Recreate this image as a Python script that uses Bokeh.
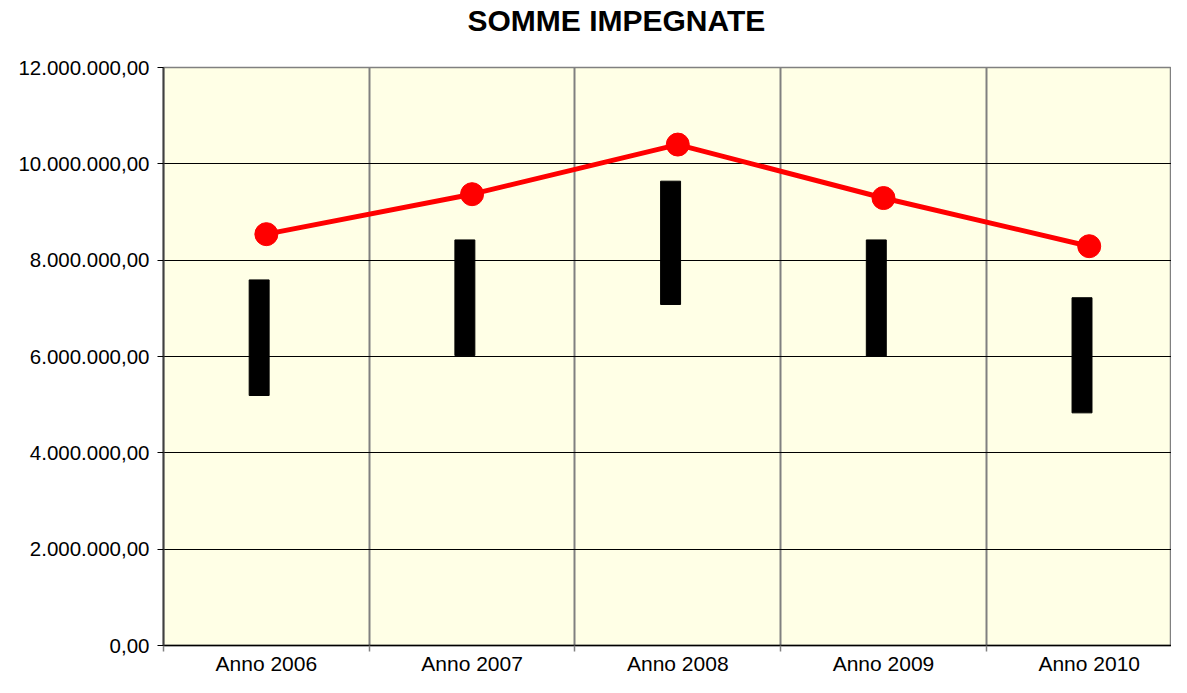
from bokeh.plotting import figure
from bokeh.models import Range1d, FixedTicker, ColumnDataSource, Title
from bokeh.transform import dodge
from bokeh.embed import file_html
from bokeh.resources import INLINE

# ---- data ----
categories = ["Anno 2006", "Anno 2007", "Anno 2008", "Anno 2009", "Anno 2010"]
line_values = [8540000, 9370000, 10400000, 9290000, 8290000]
bar_high = [7590000, 8420000, 9640000, 8420000, 7220000]
bar_low = [5190000, 6020000, 7080000, 6000000, 4830000]
y_ticks = [0, 2000000, 4000000, 6000000, 8000000, 10000000, 12000000]
y_tick_labels = ["0,00", "2.000.000,00", "4.000.000,00", "6.000.000,00",
                 "8.000.000,00", "10.000.000,00", "12.000.000,00"]

FONT = "Liberation Sans"

x_centers = [i + 0.5 for i in range(len(categories))]
boundaries = list(range(len(categories) + 1))

src = ColumnDataSource(dict(x=x_centers, cat=categories, val=line_values,
                            high=bar_high, low=bar_low))

p = figure(width=1171, height=677, output_backend="svg", toolbar_location=None,
           x_range=Range1d(0, 4.90), y_range=Range1d(0, 12000000),
           min_border_left=163, min_border_right=0, min_border_top=67,
           min_border_bottom=28)

p.background_fill_color = "#FFFFE6"
p.border_fill_color = "white"
p.outline_line_color = "#808080"
p.outline_line_width = 1.5

# spacer between title and plot area
p.add_layout(Title(text=" ", text_font_size="2px", standoff=27), "above")

# title
p.title.text = "SOMME IMPEGNATE"
p.title.text_font = FONT
p.title.text_font_size = "30px"
p.title.text_font_style = "bold"
p.title.text_color = "black"
p.title.align = "left"
p.title.offset = 304
p.title.standoff = 0

# x axis
xa = p.xaxis[0]
xa.ticker = FixedTicker(ticks=x_centers, minor_ticks=boundaries)
xa.major_label_overrides = {x: c for x, c in zip(x_centers, categories)}
xa.major_tick_out = 0
xa.major_tick_in = 0
xa.minor_tick_out = 6
xa.minor_tick_in = 0
xa.minor_tick_line_color = "#808080"
xa.minor_tick_line_width = 1.5
xa.axis_line_color = "black"
xa.axis_line_width = 1.5
xa.major_label_text_font = FONT
xa.major_label_text_font_size = "21px"
xa.major_label_text_color = "black"
xa.major_label_standoff = 0

# y axis
ya = p.yaxis[0]
ya.ticker = FixedTicker(ticks=y_ticks, minor_ticks=[])
ya.major_label_overrides = {t: l for t, l in zip(y_ticks, y_tick_labels)}
ya.major_tick_out = 6
ya.major_tick_in = 0
ya.major_tick_line_color = "black"
ya.axis_line_color = "#404040"
ya.axis_line_width = 2
ya.major_label_text_font = FONT
ya.major_label_text_font_size = "20.5px"
ya.major_label_text_color = "black"
ya.major_label_standoff = 8

# grids
p.xgrid.ticker = FixedTicker(ticks=boundaries[1:-1])
p.xgrid.grid_line_color = "#808080"
p.xgrid.grid_line_width = 2
p.ygrid.ticker = FixedTicker(ticks=y_ticks[1:-1])
p.ygrid.grid_line_color = "black"
p.ygrid.grid_line_width = 1

# marks
p.vbar(x=dodge("x", -0.035, range=p.x_range), width=0.097, top="high", bottom="low",
       source=src, fill_color="black", line_color="black")
p.line(x="x", y="val", source=src, line_color="#FF0000", line_width=5)
p.scatter(x="x", y="val", source=src, size=23, fill_color="#FF0000",
          line_color="#FF0000")

open("out.html", "w").write(file_html(p, INLINE))
